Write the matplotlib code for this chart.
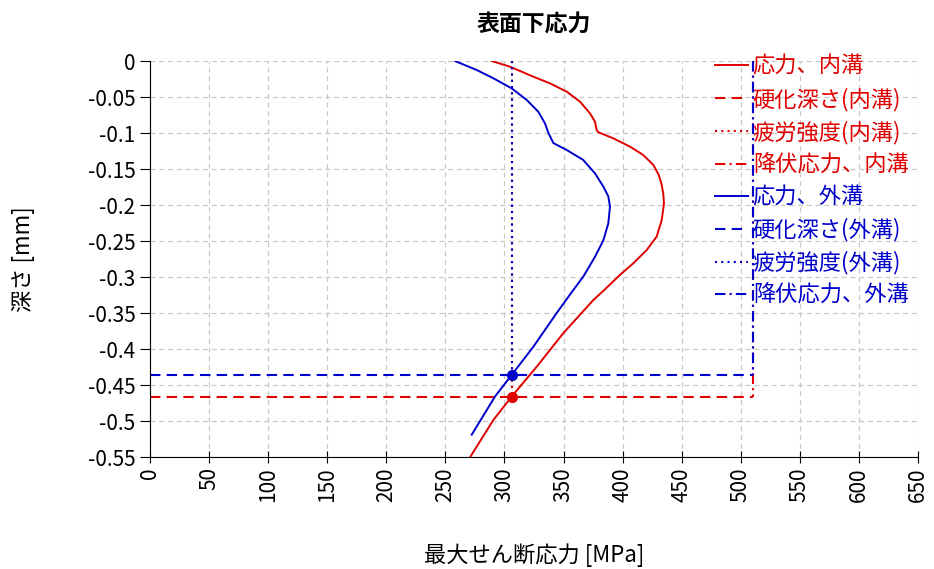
import matplotlib
matplotlib.use("Agg")
import matplotlib.pyplot as plt

plt.rcParams['font.family'] = ['Noto Sans CJK JP', 'DejaVu Sans']
plt.rcParams['axes.unicode_minus'] = False

# 内溝: depth [mm] / max shear stress [MPa]
depth_in = [0, -0.0079, -0.0218, -0.031, -0.0426, -0.0565, -0.0727, -0.0843,
            -0.0958, -0.099, -0.1074, -0.119, -0.1306, -0.1444, -0.158,
            -0.17, -0.184, -0.198, -0.221, -0.244, -0.2625, -0.281, -0.297,
            -0.318, -0.332, -0.378, -0.4246, -0.466, -0.4986, -0.55]
stress_in = [289.2, 304.7, 324.4, 338.5, 352.7, 363.9, 372.4, 376.6,
             378, 379.5, 392.1, 406.3, 417.5, 426, 430.5,
             432.8, 434.4, 435, 433.1, 428.8, 420.4, 409, 397.8,
             384.5, 375.2, 349.8, 327.3, 306.1, 290.6, 271]

# 外溝
depth_out = [0, -0.0125, -0.024, -0.038, -0.054, -0.0704, -0.0866, -0.1,
             -0.114, -0.1236, -0.1375, -0.156, -0.1745, -0.188, -0.202,
             -0.2255, -0.249, -0.272, -0.2995, -0.318, -0.35, -0.397,
             -0.436, -0.466, -0.519]
stress_out = [258.1, 276.5, 290.6, 306.1, 318.8, 328.6, 334.3, 337.2,
              341.4, 352.7, 366.7, 376.6, 383.7, 387.9, 389.3,
              387.9, 383.7, 376.6, 366.7, 358.3, 344.2, 324.4,
              306.1, 292, 272.3]

hard_depth_in, hard_depth_out = -0.466, -0.436
fatigue_in, fatigue_out = 306.1, 306.1
yield_in, yield_out = 510.5, 510.5

red = '#e00000'
blue = '#0000cc'

fig = plt.figure(figsize=(9.34, 5.69), dpi=100)
ax = fig.add_axes([150 / 934, 1 - 457 / 569, 768 / 934, 396 / 569])

series = [
    ('内溝', red, depth_in, stress_in, hard_depth_in, fatigue_in, yield_in),
    ('外溝', blue, depth_out, stress_out, hard_depth_out, fatigue_out, yield_out),
]
for name, c, d, s, hd, fat, yld in series:
    ax.plot(s, d, color=c, lw=1.4, label=f'応力、{name}')
    ax.plot([0, yld], [hd, hd], color=c, lw=1.5, ls=(0, (5, 3)),
            label=f'硬化深さ({name})')
    ax.plot([fat, fat], [0, hd], color=c, lw=1.5, ls=(0, (1, 2)),
            label=f'疲労強度({name})')
    ax.plot([yld, yld], [0, hd], color=c, lw=1.5, ls=(0, (5, 2, 1, 2)),
            label=f'降伏応力、{name}')
    # intersection of fatigue strength and hardened depth
    ax.plot([fat], [hd], 'o', color=c, ms=7)

ax.set_xlim(0, 650)
ax.set_ylim(-0.55, 0)
ax.set_xticks(range(0, 651, 50))
ax.set_yticks([0, -0.05, -0.1, -0.15, -0.2, -0.25, -0.3, -0.35, -0.4,
               -0.45, -0.5, -0.55])
ax.set_yticklabels(['0', '-0.05', '-0.1', '-0.15', '-0.2', '-0.25', '-0.3',
                    '-0.35', '-0.4', '-0.45', '-0.5', '-0.55'])
ax.tick_params(axis='x', labelrotation=90, direction='inout', length=8,
               labelsize=15)
ax.tick_params(axis='y', direction='out', length=7, labelsize=15)
ax.grid(True, color='#c8c8c8', lw=0.9, ls=(0, (4, 3)))
ax.set_axisbelow(True)
for side in ('top', 'right'):
    ax.spines[side].set_visible(False)

ax.set_title('表面下応力', fontsize=16.5, fontweight='bold', pad=22)
ax.set_xlabel('最大せん断応力 [MPa]', fontsize=16, labelpad=30)
ax.set_ylabel('深さ [mm]', fontsize=16, labelpad=38)

ax.legend(loc='upper left', bbox_to_anchor=(715 / 934, 1 - 55 / 569),
          bbox_transform=fig.transFigure, frameon=False, fontsize=16,
          handlelength=1.5, handletextpad=0.2, labelspacing=0.42,
          borderpad=0, borderaxespad=0, labelcolor='linecolor')

fig.savefig('out.png', dpi=100)
